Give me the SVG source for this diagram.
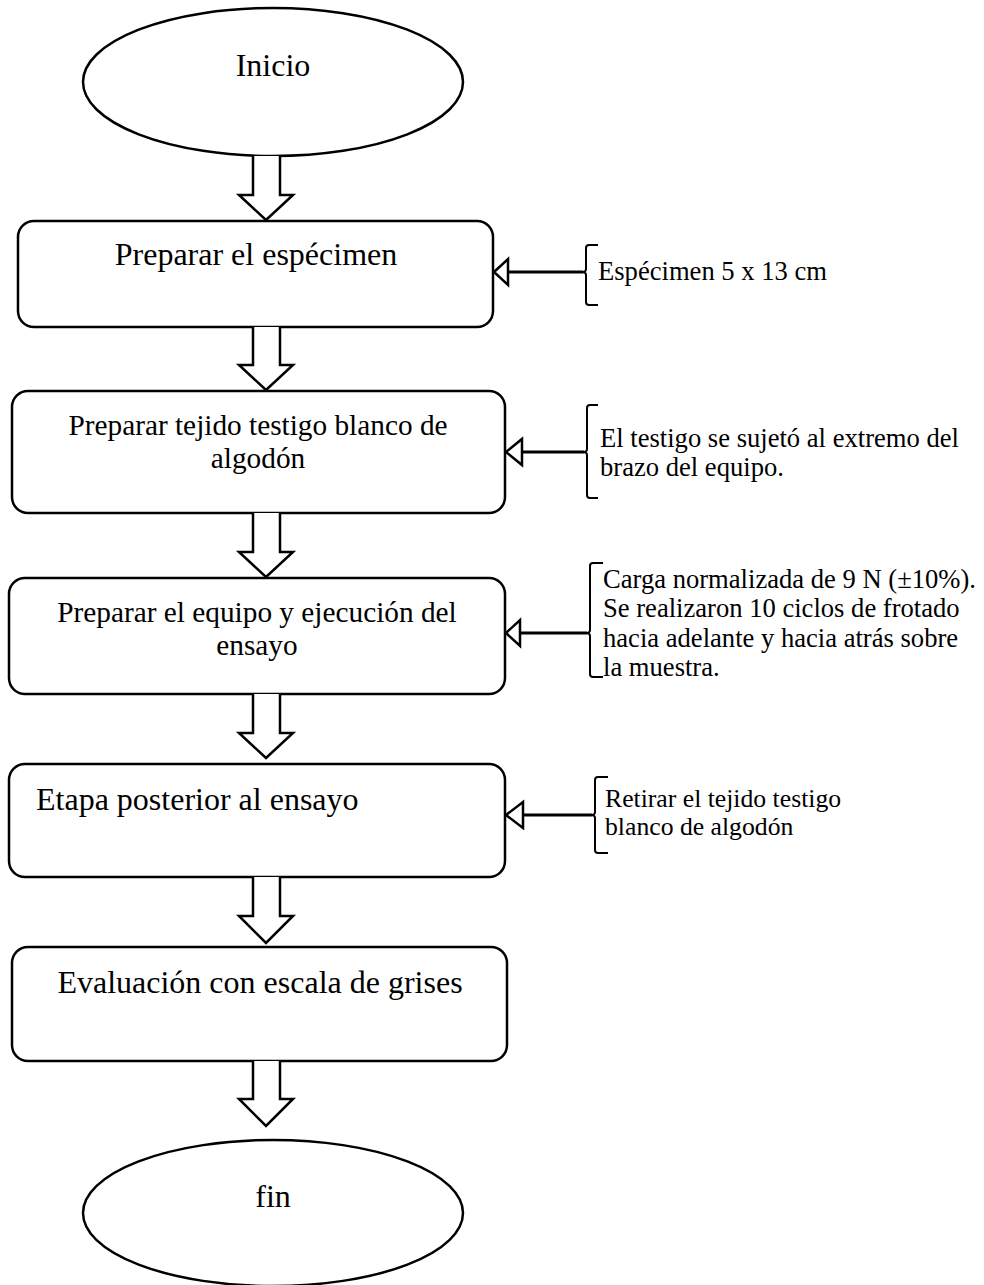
<svg xmlns="http://www.w3.org/2000/svg" width="984" height="1285" viewBox="0 0 984 1285">
<style>
.shape{fill:#fff;stroke:#000;stroke-width:2.5}
.blk{fill:#fff;stroke:#000;stroke-width:2.5;stroke-linejoin:miter}
.ln{fill:none;stroke:#000;stroke-width:3}
.tri{fill:#fff;stroke:#000;stroke-width:2.5}
.br{fill:none;stroke:#000;stroke-width:2}
.t{font-family:"Liberation Serif","Times New Roman",serif;fill:#000}
.big{font-size:32px}
.mid{font-size:29.3px}
.side{font-size:26.6px}
</style>
<rect width="984" height="1285" fill="#fff"/>
<g id="inicio">
<ellipse class="shape" cx="273" cy="82" rx="190" ry="74"/>
<text class="t big" x="273" y="76" text-anchor="middle">Inicio</text>
</g>
<g id="preparar-especimen">
<rect class="shape" x="18" y="221" width="475" height="106" rx="16"/>
<text class="t big" x="256" y="265" text-anchor="middle">Preparar el espécimen</text>
</g>
<g id="preparar-tejido">
<rect class="shape" x="12" y="391" width="493" height="122" rx="16"/>
<text class="t mid" x="258" y="435" text-anchor="middle">Preparar tejido testigo blanco de</text>
<text class="t mid" x="258" y="468" text-anchor="middle">algodón</text>
</g>
<g id="preparar-equipo">
<rect class="shape" x="9" y="578" width="496" height="116" rx="16"/>
<text class="t mid" x="257" y="622" text-anchor="middle">Preparar el equipo y ejecución del</text>
<text class="t mid" x="257" y="655" text-anchor="middle">ensayo</text>
</g>
<g id="etapa-posterior">
<rect class="shape" x="9" y="764" width="496" height="113" rx="16"/>
<text class="t big" x="36" y="810">Etapa posterior al ensayo</text>
</g>
<g id="evaluacion">
<rect class="shape" x="12" y="947" width="495" height="114" rx="16"/>
<text class="t big" x="260" y="993" text-anchor="middle">Evaluación con escala de grises</text>
</g>
<g id="fin">
<ellipse class="shape" cx="273" cy="1213" rx="190" ry="73"/>
<text class="t big" x="273" y="1207" text-anchor="middle">fin</text>
</g>
<g id="nota-especimen">
<path class="br" d="M598 245 L589 245 Q586 245 586 248 L586 269 Q586 272 582 272 Q586 272 586 275 L586 302 Q586 305 589 305 L598 305"/>
<text class="t side" x="598" y="280">Espécimen 5 x 13 cm</text>
</g>
<g id="nota-testigo">
<path class="br" d="M598 405 L590 405 Q587 405 587 408 L587 449 Q587 452 583 452 Q587 452 587 455 L587 495 Q587 498 590 498 L598 498"/>
<text class="t side" x="600" y="447">El testigo se sujetó al extremo del</text>
<text class="t side" x="600" y="476">brazo del equipo.</text>
</g>
<g id="nota-carga">
<path class="br" d="M603 563 L593 563 Q590 563 590 566 L590 630 Q590 633 586 633 Q590 633 590 636 L590 674 Q590 677 593 677 L603 677"/>
<text class="t side" x="603" y="588">Carga normalizada de 9 N (±10%).</text>
<text class="t side" x="603" y="617">Se realizaron 10 ciclos de frotado</text>
<text class="t side" x="603" y="647">hacia adelante y hacia atrás sobre</text>
<text class="t side" x="603" y="676">la muestra.</text>
</g>
<g id="nota-retirar">
<path class="br" d="M608 777 L598 777 Q595 777 595 780 L595 812 Q595 815 591 815 Q595 815 595 818 L595 850 Q595 853 598 853 L608 853"/>
<text class="t side" x="605" y="807" style="font-size:25.7px">Retirar el tejido testigo</text>
<text class="t side" x="605" y="835" style="font-size:25.7px">blanco de algodón</text>
</g>
<g id="connectors">
<path class="blk" d="M253 156 L253 195 L239 195 L266 220 L293 195 L280 195 L280 156"/>
<path class="blk" d="M253 327 L253 365 L239 365 L266 390 L293 365 L280 365 L280 327"/>
<path class="blk" d="M253 513 L253 552 L239 552 L266 577 L293 552 L280 552 L280 513"/>
<path class="blk" d="M253 694 L253 733 L239 733 L266 758 L293 733 L280 733 L280 694"/>
<path class="blk" d="M253 877 L253 916 L239 916 L266 943 L293 916 L280 916 L280 877"/>
<path class="blk" d="M253 1061 L253 1099 L239 1099 L266 1126 L293 1099 L280 1099 L280 1061"/>
<line class="ln" x1="508" y1="272" x2="583" y2="272"/>
<polygon class="tri" points="494,272 508,259 508,285"/>
<line class="ln" x1="522" y1="452" x2="584" y2="452"/>
<polygon class="tri" points="506,452 522,439 522,465"/>
<line class="ln" x1="520" y1="633" x2="587" y2="633"/>
<polygon class="tri" points="506,633 520,620 520,646"/>
<line class="ln" x1="523" y1="815" x2="592" y2="815"/>
<polygon class="tri" points="506,815 523,802 523,828"/>
</g>
</svg>
